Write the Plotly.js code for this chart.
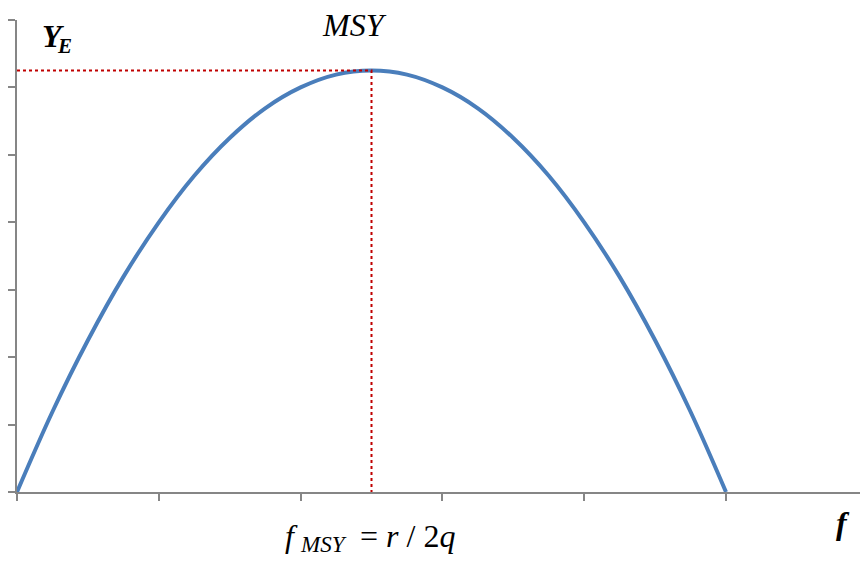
<!DOCTYPE html>
<html>
<head>
<meta charset="utf-8">
<script src="https://cdn.plot.ly/plotly-3.0.1.min.js"></script>
<style>
html,body{margin:0;padding:0;background:#fff;}
#chart{width:861px;height:561px;}
</style>
</head>
<body>
<div id="chart"></div>
<script>
// Fishing effort f and equilibrium yield Y_E
var effort = [0, 0.25, 0.5, 0.75, 1, 1.25, 1.5, 1.75, 2, 2.25, 2.5, 2.75, 3, 3.25, 3.5, 3.75, 4, 4.25, 4.5, 4.75, 5];
var yieldE = [0, 1.19, 2.25, 3.19, 4.0, 4.69, 5.25, 5.69, 6.0, 6.19, 6.25, 6.19, 6.0, 5.69, 5.25, 4.69, 4.0, 3.19, 2.25, 1.19, 0];
// MSY point
var fMSY = [2.5];
var yMSY = [6.25];
var xTicks = [0, 1, 2, 3, 4, 5];
var yTicks = [0, 1, 2, 3, 4, 5, 6, 7];

var axisColor = '#868686';
var serif = 'Liberation Serif';

var traces = [
  {
    x: effort, y: yieldE, type: 'scatter', mode: 'lines',
    line: {color: '#4a7ebb', width: 4, shape: 'spline'},
    cliponaxis: false
  },
  {
    x: [0, fMSY[0], fMSY[0]], y: [yMSY[0], yMSY[0], 0], type: 'scatter', mode: 'lines',
    line: {color: '#c00000', width: 2, dash: 'dot'},
    cliponaxis: false
  }
];

function ann(x, y, text, size, xanchor) {
  return {xref: 'paper', yref: 'paper', x: x, y: y, xanchor: xanchor || 'left', yanchor: 'bottom',
          text: text, showarrow: false, borderpad: 0,
          font: {family: serif, size: size, color: '#000000'}};
}

var layout = {
  width: 861, height: 561,
  margin: {l: 17, r: 1, t: 20, b: 69, pad: 0},
  showlegend: false,
  font: {family: serif},
  xaxis: {
    range: [0, 5.945], tickvals: xTicks, showticklabels: false,
    ticks: 'outside', ticklen: 7, tickwidth: 1.5, tickcolor: axisColor,
    showline: true, linecolor: axisColor, linewidth: 2,
    showgrid: false, zeroline: false
  },
  yaxis: {
    range: [0, 7], tickvals: yTicks, showticklabels: false,
    ticks: 'outside', ticklen: 7, tickwidth: 1.5, tickcolor: axisColor,
    showline: true, linecolor: axisColor, linewidth: 2,
    showgrid: false, zeroline: false
  },
  annotations: [
    // Y_E
    {xref: 'paper', yref: 'paper', x: 0.027, y: 0.966, xanchor: 'left', yanchor: 'middle',
     text: '<b><i>Y</i></b>', showarrow: false,
     font: {family: serif, size: 32, color: '#000000'}},
    {xref: 'paper', yref: 'paper', x: 0.0455, y: 0.945, xanchor: 'left', yanchor: 'middle',
     text: '<b><i>E</i></b>', showarrow: false,
     font: {family: serif, size: 21, color: '#000000'}},
    // MSY
    {xref: 'paper', yref: 'paper', x: 0.4, y: 0.99, xanchor: 'center', yanchor: 'middle',
     text: '<i>MSY</i>', showarrow: false,
     font: {family: serif, size: 32, color: '#000000'}},
    // f_MSY = r / 2q
    {xref: 'paper', yref: 'paper', x: 0.316, y: -0.094, xanchor: 'left', yanchor: 'middle',
     text: '<i>f</i>', showarrow: false,
     font: {family: serif, size: 32, color: '#000000'}},
    {xref: 'paper', yref: 'paper', x: 0.333, y: -0.112, xanchor: 'left', yanchor: 'middle',
     text: '<i>MSY</i>', showarrow: false,
     font: {family: serif, size: 23, color: '#000000'}},
    {xref: 'paper', yref: 'paper', x: 0.405, y: -0.094, xanchor: 'left', yanchor: 'middle',
     text: '= <i>r</i> / 2<i>q</i>', showarrow: false,
     font: {family: serif, size: 32, color: '#000000'}},
    // f axis label
    {xref: 'paper', yref: 'paper', x: 0.98, y: -0.066, xanchor: 'center', yanchor: 'middle',
     text: '<b><i>f</i></b>', showarrow: false,
     font: {family: serif, size: 32, color: '#000000'}}
  ]
};

Plotly.newPlot('chart', traces, layout, {displayModeBar: false});
</script>
</body>
</html>
